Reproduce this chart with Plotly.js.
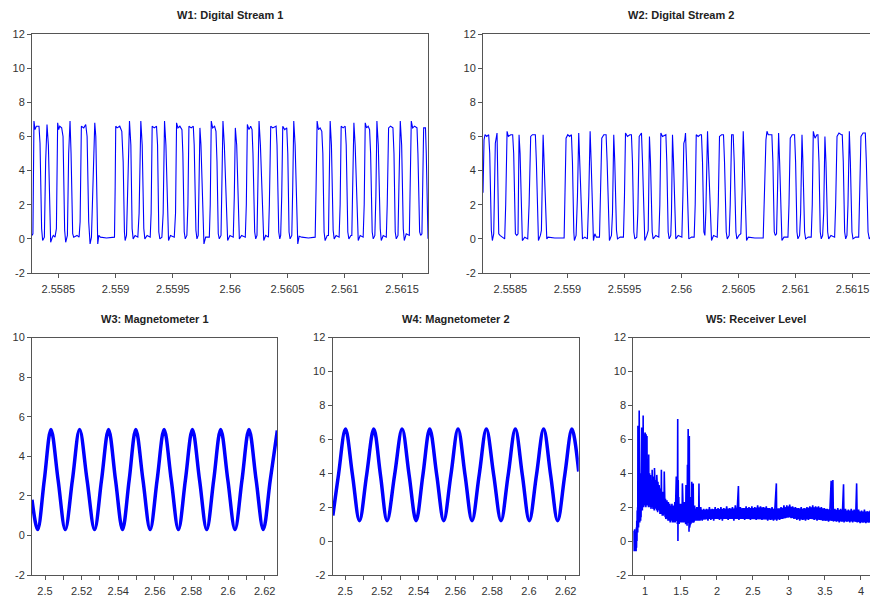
<!DOCTYPE html>
<html>
<head>
<meta charset="utf-8">
<script src="https://cdn.plot.ly/plotly-3.0.1.min.js"></script>
<style>
html, body { margin:0; padding:0; overflow:hidden; background:#fff; }
#chart { width:880px; height:599px; }
</style>
</head>
<body>
<div id="chart"></div>
<script>
// ---------------- DATA ----------------
// Digital streams: times are microseconds after 2.558 s
const STREAM_T0 = 2.558;
const w1TimeUs = [270,278,287,296,308,331,340,354,363,378,
389,401,413,427,433,448,456,471,483,494,
503,512,529,541,555,564,579,590,602,611,
625,634,663,681,690,701,722,739,751,765,
777,789,803,818,827,838,844,853,867,920,
990,996,1001,1013,1036,1054,1066,1077,1083,1095,
1106,1121,1133,1144,1153,1170,1194,1205,1220,1232,
1246,1255,1275,1302,1310,1319,1337,1357,1366,1377,
1386,1404,1415,1427,1439,1453,1462,1479,1512,1523,
1532,1544,1561,1579,1587,1599,1608,1622,1631,1640,
1660,1678,1686,1701,1710,1721,1727,1736,1745,1762,
1771,1786,1818,1826,1835,1847,1864,1876,1885,1896,
1905,1920,1925,1937,1949,1969,1978,1998,2027,2036,
2045,2057,2074,2080,2100,2132,2141,2150,2164,2179,
2191,2199,2214,2223,2234,2243,2252,2264,2284,2293,
2310,2334,2342,2354,2371,2401,2409,2424,2433,2441,
2450,2459,2476,2494,2503,2514,2523,2538,2546,2555,
2567,2581,2590,2602,2625,2683,2742,2750,2759,2771,
2785,2800,2809,2820,2829,2847,2858,2864,2873,2884,
2899,2908,2925,2951,2960,2969,2986,3004,3013,3027,
3036,3054,3062,3068,3080,3091,3109,3118,3135,3161,
3170,3179,3191,3205,3217,3226,3240,3249,3263,3272,
3281,3293,3310,3319,3336,3363,3371,3383,3400,3421,
3430,3441,3450,3465,3473,3485,3497,3511,3520,3537,
3564,3572,3581,3593,3610,3631,3639,3654,3663,3674,
3680,3689,3705,3712,3727];
const w1Volts = [0.2,0.3,6.9,6.4,6.6,6.6,5.6,0.6,-0.1,0.1,
4.5,6.7,5.5,0.4,-0.2,0.1,0.2,0.1,0.6,6.8,
6.4,6.6,6.5,6.0,0.5,-0.2,0.2,5.0,6.9,5.0,
0.3,0.1,0.2,0.1,1.0,6.6,6.5,6.7,6.0,1.0,
-0.3,0.1,3.5,6.8,6.0,0.4,-0.3,0.2,0.1,0.05,
0.1,3.0,6.6,6.5,6.6,6.3,4.5,0.4,-0.1,0.2,
2.5,6.9,5.5,0.6,0.0,0.2,0.1,1.5,6.9,5.5,
0.6,0.0,0.2,0.1,1.5,6.6,6.5,6.6,5.5,0.4,
0.0,0.1,1.5,6.9,5.5,0.8,-0.1,0.2,0.1,1.5,
6.8,6.5,6.6,6.4,5.0,0.4,0.0,0.2,2.0,6.6,
6.5,6.6,5.5,0.5,0.0,0.2,2.5,6.5,5.5,0.6,
-0.3,0.1,0.1,2.0,6.9,6.5,6.6,6.3,4.5,0.3,
0.0,0.2,2.0,6.9,5.5,0.6,-0.1,0.2,0.1,2.5,
6.5,5.5,0.5,0.0,0.2,0.1,2.0,6.7,6.4,6.6,
6.4,5.0,0.4,0.0,0.2,3.0,6.9,5.5,0.6,-0.1,
0.2,0.1,2.0,6.6,6.5,6.6,5.5,0.4,0.0,0.2,
2.5,6.6,6.4,6.5,5.0,0.4,0.0,0.2,3.0,6.9,
5.5,0.6,-0.3,0.15,0.1,0.05,0.1,3.0,6.9,6.4,
6.5,6.3,5.0,0.4,-0.1,0.2,0.2,3.0,6.9,5.5,
0.5,0.0,0.2,0.1,2.0,6.6,6.5,6.6,5.5,0.4,
0.0,0.2,0.2,2.5,6.8,5.5,0.6,-0.1,0.2,0.1,
2.0,6.8,6.5,6.6,6.4,5.0,0.4,0.0,0.2,2.5,
6.9,5.5,0.6,-0.1,0.2,0.1,2.0,6.5,6.6,6.5,
5.0,0.4,0.0,0.2,3.0,6.9,5.5,0.6,-0.1,0.3,
0.2,2.5,6.9,6.5,6.6,6.5,5.0,0.4,0.2,0.3,
3.0,6.5,6.5,5.0,0.0];

const w2TimeUs = [260,269,278,292,310,319,333,342,354,363,
368,383,389,398,409,436,450,459,471,482,
503,520,529,544,556,567,576,585,599,605,
626,652,664,678,693,719,728,740,746,763,
772,787,795,810,819,830,889,971,980,988,
1003,1020,1035,1044,1056,1061,1076,1088,1099,1108,
1123,1132,1152,1175,1187,1199,1208,1222,1228,1240,
1254,1281,1289,1301,1319,1339,1348,1360,1368,1386,
1395,1406,1415,1430,1439,1462,1491,1500,1509,1526,
1547,1561,1570,1582,1591,1608,1617,1629,1649,1658,
1673,1678,1696,1708,1719,1728,1743,1751,1775,1801,
1810,1819,1833,1854,1863,1871,1883,1892,1906,1912,
1921,1930,1944,1950,1971,2003,2012,2020,2029,2035,
2044,2056,2064,2088,2111,2120,2129,2146,2164,2175,
2184,2196,2205,2213,2228,2237,2254,2263,2281,2313,
2322,2333,2351,2368,2377,2392,2401,2418,2427,2439,
2453,2462,2477,2485,2503,2520,2532,2541,2550,2564,
2570,2585,2643,2716,2728,2740,2749,2760,2778,2792,
2801,2813,2822,2833,2842,2851,2860,2874,2880,2898,
2933,2942,2953,2971,2991,3000,3012,3020,3035,3044,
3056,3064,3079,3088,3111,3137,3146,3155,3170,3187,
3196,3205,3216,3225,3237,3246,3257,3266,3281,3290,
3310,3342,3351,3363,3380,3401,3409,3418,3430,3439,
3450,3459,3471,3480,3494,3503,3526,3553,3561,3573,
3591,3611,3620,3635,3646,3667,3711];
const w2Volts = [2.7,5.8,6.1,6.0,6.1,5.0,0.5,-0.1,0.3,4.5,
5.6,6.2,4.0,0.3,0.2,0.1,0.0,2.0,6.3,6.0,
6.1,6.1,5.0,0.3,0.2,0.3,6.1,5.0,0.5,-0.1,
0.1,0.0,2.0,6.0,6.1,6.1,4.5,0.4,-0.1,0.2,
0.5,6.1,4.5,0.5,0.0,0.1,0.05,0.05,2.5,5.9,
6.1,6.0,6.1,4.5,0.4,-0.1,0.2,2.5,6.2,4.5,
0.5,0.0,0.1,0.0,2.5,6.3,4.5,0.5,-0.1,0.3,
0.1,0.1,2.0,5.9,6.1,6.1,4.5,0.5,-0.1,0.2,
1.5,6.1,4.5,0.5,0.0,0.1,0.1,2.5,6.2,6.0,
6.1,6.1,4.5,0.4,0.0,0.1,1.5,6.0,6.2,4.5,
0.4,-0.1,0.2,0.5,6.0,4.5,0.4,0.0,0.2,0.1,
2.0,6.2,6.0,6.1,6.1,4.5,0.4,0.0,0.2,1.5,
6.1,4.5,0.4,0.0,0.2,0.1,2.5,5.6,5.8,6.2,
4.5,0.5,0.0,0.1,0.1,2.0,6.1,6.0,6.1,6.1,
4.5,0.4,0.2,1.5,6.3,4.5,0.5,-0.1,0.2,0.1,
2.0,6.0,6.1,6.1,4.5,0.4,0.0,0.2,2.0,6.1,
6.1,4.5,0.4,0.0,0.2,0.3,3.0,6.3,4.5,0.5,
-0.1,0.1,0.05,0.05,2.5,5.8,6.3,6.1,6.1,6.1,
4.5,0.4,0.2,0.3,3.0,6.2,4.5,0.4,-0.1,0.1,
0.1,2.0,5.9,6.1,6.1,4.5,0.4,0.0,0.2,1.5,
6.1,4.5,0.4,0.0,0.1,0.1,2.0,6.3,5.9,6.1,
6.1,4.5,0.4,0.0,0.2,1.5,6.0,4.5,0.4,0.0,
0.2,0.1,2.0,6.0,6.2,6.1,6.1,4.5,0.4,0.0,
0.2,2.0,6.3,4.5,0.4,0.0,0.1,0.1,2.0,6.0,
6.2,6.2,4.5,0.4,0.0,0.2,0.1];

const w3Time = [2.4929,2.49598,2.49962,2.50325,2.50716,2.51107,2.51498,2.51889,2.52298,2.52707,
2.53089,2.53471,2.53853,2.54234,2.54598,2.54961,2.55352,2.55743,2.56125,2.56507,
2.56898,2.57288,2.5767,2.58052,2.58443,2.58834,2.59216,2.59597,2.59988,2.60379,
2.60761,2.61143,2.61534,2.61924,2.62306,2.6269];
const w3Value = [1.8,0.3,2.8,5.35,2.8,0.3,2.8,5.35,2.8,0.3,
2.8,5.35,2.8,0.3,2.8,5.35,2.8,0.3,2.8,5.35,
2.8,0.3,2.8,5.35,2.8,0.3,2.8,5.35,2.8,0.3,
2.8,5.35,2.8,0.3,2.8,5.3];

const w4Time = [2.4933,2.49635,2.50016,2.50397,2.50778,2.51168,2.51557,2.5192,2.52282,2.5269,
2.53098,2.53479,2.53859,2.54231,2.54602,2.54983,2.55364,2.55754,2.56143,2.56524,
2.56904,2.57294,2.57684,2.58083,2.58481,2.58871,2.59261,2.59642,2.60022,2.60412,
2.60801,2.61182,2.61563,2.61953,2.62342,2.6271];
const w4Value = [1.5,3.9,6.6,3.9,1.2,3.9,6.6,3.9,1.2,3.9,
6.6,3.9,1.2,3.9,6.6,3.9,1.2,3.9,6.6,3.9,
1.2,3.9,6.6,3.9,1.2,3.9,6.6,3.9,1.2,3.9,
6.6,3.9,1.2,3.9,6.6,4.1];

// Receiver level (seconds, level)
const w5Time = [0.838,0.841,0.844,0.847,0.850,0.853,0.856,0.859,0.862,0.865,
0.868,0.871,0.874,0.877,0.880,0.883,0.886,0.889,0.892,0.895,
0.898,0.900,0.902,0.905,0.908,0.911,0.914,0.917,0.920,0.922,
0.925,0.928,0.931,0.934,0.937,0.940,0.943,0.946,0.949,0.952,
0.955,0.958,0.961,0.964,0.967,0.970,0.975,0.977,0.980,0.983,
0.986,0.989,0.992,0.995,0.998,1.001,1.004,1.007,1.010,1.013,
1.016,1.019,1.022,1.025,1.028,1.031,1.034,1.037,1.040,1.043,
1.046,1.049,1.052,1.055,1.058,1.061,1.064,1.067,1.070,1.073,
1.076,1.079,1.082,1.085,1.088,1.091,1.094,1.097,1.100,1.104,
1.108,1.112,1.116,1.120,1.124,1.128,1.132,1.136,1.140,1.144,
1.148,1.152,1.156,1.160,1.164,1.168,1.172,1.176,1.180,1.184,
1.188,1.192,1.196,1.200,1.204,1.208,1.212,1.216,1.220,1.224,
1.228,1.232,1.236,1.240,1.244,1.248,1.252,1.256,1.260,1.264,
1.268,1.272,1.276,1.280,1.285,1.290,1.295,1.300,1.305,1.310,
1.315,1.320,1.325,1.330,1.335,1.340,1.345,1.350,1.355,1.360,
1.365,1.370,1.375,1.380,1.385,1.390,1.395,1.400,1.405,1.410,
1.415,1.420,1.425,1.430,1.435,1.440,1.445,1.450,1.455,1.458,
1.462,1.466,1.470,1.475,1.480,1.485,1.490,1.495,1.500,1.505,
1.510,1.515,1.520,1.525,1.530,1.535,1.540,1.545,1.550,1.555,
1.560,1.565,1.570,1.575,1.580,1.585,1.590,1.595,1.600,1.604,
1.608,1.612,1.616,1.620,1.624,1.628,1.632,1.636,1.640,1.645,
1.650,1.655,1.660,1.665,1.670,1.675,1.680,1.685,1.690,1.695,
1.700,1.705,1.710,1.715,1.720,1.725,1.730,1.735,1.740,1.745,
1.750,1.755,1.760,1.765,1.775,1.795,1.815,1.835,1.855,1.875,
1.895,1.915,1.935,1.955,1.975,1.995,2.015,2.035,2.055,2.075,
2.095,2.115,2.135,2.155,2.175,2.195,2.215,2.235,2.255,2.275,
2.298,2.305,2.325,2.345,2.365,2.385,2.405,2.425,2.445,2.465,
2.485,2.505,2.525,2.545,2.565,2.585,2.605,2.625,2.645,2.665,
2.685,2.705,2.725,2.745,2.765,2.785,2.805,2.825,2.830,2.850,
2.870,2.890,2.910,2.930,2.950,2.970,2.990,3.010,3.030,3.050,
3.070,3.090,3.110,3.130,3.150,3.170,3.190,3.210,3.230,3.250,
3.270,3.290,3.310,3.330,3.350,3.370,3.390,3.410,3.430,3.450,
3.470,3.490,3.510,3.530,3.550,3.570,3.586,3.595,3.610,3.618,
3.638,3.658,3.678,3.698,3.718,3.738,3.758,3.765,3.785,3.805,
3.825,3.845,3.865,3.885,3.905,3.925,3.940,3.948,3.968,3.988,
4.008,4.028,4.048,4.068,4.088,4.108,4.128,4.148,4.168,4.188,
4.208,4.228,4.248];
const w5Level = [0.3,-0.5,0.6,-0.6,0.2,-0.5,0.7,-0.6,0.3,-0.6,
0.5,-0.5,0.4,-0.6,0.8,-0.4,1.2,0.0,1.8,0.6,
2.0,0.5,6.8,1.0,2.2,0.8,2.0,1.2,7.7,1.5,
5.5,1.1,3.5,1.6,3.0,1.2,4.0,1.4,3.2,1.8,
6.7,2.0,4.5,1.8,3.8,2.4,7.4,2.2,6.4,2.0,
5.5,2.6,6.3,2.4,4.0,2.1,6.4,2.5,5.0,2.0,
6.3,2.6,4.4,2.1,6.2,2.7,4.0,2.2,4.6,2.5,
3.5,2.0,5.1,2.4,3.8,2.2,4.0,2.6,3.4,2.0,
3.9,2.3,3.2,1.9,3.6,2.2,3.0,2.0,4.2,2.4,
3.4,1.9,3.8,2.3,3.0,1.8,4.3,2.1,3.3,1.9,
3.6,2.2,3.0,1.8,3.9,2.0,3.2,1.7,3.5,2.1,
2.8,1.8,3.3,1.9,2.9,1.6,3.1,1.9,2.7,1.6,
4.2,1.9,2.6,1.5,2.9,1.7,2.5,1.5,2.8,1.6,
4.1,1.5,2.4,1.4,2.5,1.3,2.3,1.4,2.4,1.3,
2.2,1.2,2.3,1.3,2.1,1.2,2.2,1.1,2.1,1.2,
2.0,1.2,2.2,1.1,2.0,1.2,2.1,1.1,2.0,1.2,
2.3,1.1,3.0,1.3,3.8,1.2,2.8,1.0,7.2,0.0,
3.6,1.1,2.6,1.0,2.2,1.2,2.1,1.1,2.2,1.2,
2.0,1.1,3.4,1.2,2.1,1.1,2.0,1.2,2.3,1.1,
2.2,1.0,3.3,1.0,3.0,0.9,4.5,1.2,6.6,0.8,
6.5,0.55,6.2,0.8,3.6,1.0,2.6,1.0,2.4,1.2,
3.5,1.1,2.1,1.2,3.4,1.1,2.0,1.2,2.1,1.3,
2.0,1.2,1.9,1.3,2.0,1.2,1.9,1.3,2.0,1.2,
3.4,1.3,1.9,1.2,2.0,1.2,1.9,1.3,1.9,1.2,
2.0,1.25,1.9,1.2,2.0,1.3,1.95,1.25,2.0,1.2,
1.95,1.3,2.05,1.25,1.95,1.3,2.0,1.2,2.1,1.3,
3.25,1.25,2.0,1.3,1.95,1.25,2.05,1.3,2.0,1.25,
2.05,1.3,2.0,1.25,2.1,1.3,2.05,1.25,2.0,1.3,
2.05,1.2,1.95,1.25,2.0,1.2,1.95,3.4,1.2,1.9,
1.25,2.0,1.3,2.1,1.35,2.1,1.4,2.15,1.35,2.05,
1.3,2.0,1.25,1.95,1.2,2.0,1.25,1.95,1.2,2.0,
1.25,2.05,1.3,2.1,1.25,2.05,1.2,2.05,1.25,2.0,
1.2,1.95,1.2,1.9,1.15,1.95,3.55,1.2,3.6,1.15,
1.9,1.15,1.95,1.1,1.9,1.15,3.35,1.1,1.9,1.15,
1.85,1.1,1.9,1.1,1.85,1.15,3.4,1.1,1.85,1.05,
1.8,1.1,1.85,1.05,1.75,1.1,1.8,1.05,1.7,1.1,
1.75,1.05,1.7];

// Receiver level: solid core of the noise band (upper / lower edge)
const rxBandTime  = [1.30,1.40,1.50,1.60,1.70,1.80,1.90,2.00,2.10,2.20,2.30,2.40,2.50,2.60,2.70,2.80,2.90,3.00,3.10,3.20,3.30,3.40,3.50,3.60,3.70,3.80,3.90,4.00,4.10,4.25];
const rxBandUpper = [2.15,2.0,2.0,2.0,1.9,1.85,1.88,1.9,1.9,1.92,1.95,1.95,1.95,2.0,1.95,1.9,1.95,2.05,1.95,1.9,2.0,2.0,1.9,1.85,1.85,1.8,1.8,1.75,1.75,1.7];
const rxBandLower = [1.35,1.2,1.15,1.05,1.25,1.25,1.3,1.3,1.3,1.3,1.3,1.3,1.3,1.3,1.27,1.25,1.3,1.4,1.3,1.25,1.3,1.25,1.2,1.2,1.15,1.15,1.15,1.1,1.1,1.1];

// Tick labels
const streamTicks = [2.5585, 2.559, 2.5595, 2.56, 2.5605, 2.561, 2.5615];
const streamTickText = ["2.5585","2.559","2.5595","2.56","2.5605","2.561","2.5615"];
const magTicks = [2.5, 2.52, 2.54, 2.56, 2.58, 2.6, 2.62];
const magTickText = ["2.5","2.52","2.54","2.56","2.58","2.6","2.62"];
const magMinorTicks = [2.51, 2.53, 2.55, 2.57, 2.59, 2.61];
const rxTicks = [1, 1.5, 2, 2.5, 3, 3.5, 4];
const rxTickText = ["1","1.5","2","2.5","3","3.5","4"];
const yTicks12 = [-2, 0, 2, 4, 6, 8, 10, 12];
const yTicks10 = [-2, 0, 2, 4, 6, 8, 10];
const panelTitles = ["W1: Digital Stream 1", "W2: Digital Stream 2", "W3: Magnetometer 1", "W4: Magnetometer 2", "W5: Receiver Level"];

// ---------------- PLOT ----------------
const FONT = "Liberation Sans, Arial, sans-serif";
const W = 880, H = 599;
const BLUE = "#0000ff";
const px = (a, b) => [a / W, b / W];
const py = (top, bottom) => [1 - bottom / H, 1 - top / H];

const x1 = w1TimeUs.map(u => STREAM_T0 + u / 1e6);
const x2 = w2TimeUs.map(u => STREAM_T0 + u / 1e6);
const bandX = rxBandTime.concat(rxBandTime.slice().reverse());
const bandY = rxBandUpper.concat(rxBandLower.slice().reverse());

const traces = [
  {x: x1, y: w1Volts, xaxis: "x", yaxis: "y", type: "scatter", mode: "lines", line: {color: BLUE, width: 1.1}},
  {x: x2, y: w2Volts, xaxis: "x2", yaxis: "y2", type: "scatter", mode: "lines", line: {color: BLUE, width: 1.1}},
  {x: w3Time, y: w3Value, xaxis: "x3", yaxis: "y3", type: "scatter", mode: "lines", line: {color: BLUE, width: 3.5, shape: "spline", smoothing: 1}},
  {x: w4Time, y: w4Value, xaxis: "x4", yaxis: "y4", type: "scatter", mode: "lines", line: {color: BLUE, width: 3.5, shape: "spline", smoothing: 1}},
  {x: bandX, y: bandY, xaxis: "x5", yaxis: "y5", type: "scatter", mode: "lines", fill: "toself", fillcolor: BLUE, line: {color: BLUE, width: 0}},
  {x: w5Time, y: w5Level, xaxis: "x5", yaxis: "y5", type: "scatter", mode: "lines", line: {color: BLUE, width: 1.6}}
];

const base = {
  showline: true, mirror: true, linecolor: "#555", linewidth: 1,
  ticks: "outside", ticklen: 4, tickwidth: 1, tickcolor: "#555",
  showgrid: false, zeroline: false, fixedrange: true,
  tickfont: {family: FONT, size: 11, color: "#333"}
};
function xa(domain, range, vals, text, anchor, minor) {
  const o = Object.assign({}, base, {domain, range, anchor, tickmode: "array", tickvals: vals, ticktext: text, ticklabelstandoff: 2});
  if (minor) o.minor = {tickmode: "array", tickvals: minor, ticks: "outside", ticklen: 4, tickcolor: "#555", showgrid: false};
  return o;
}
function ya(domain, range, vals, anchor) {
  return Object.assign({}, base, {domain, range, anchor, tickmode: "array", tickvals: vals, ticktext: vals.map(String)});
}

const topY = py(34, 273), botY = py(337.5, 575);
const layout = {
  width: W, height: H,
  margin: {l: 0, r: 0, t: 0, b: 0},
  paper_bgcolor: "#fff", plot_bgcolor: "#fff",
  showlegend: false,
  font: {family: FONT, size: 11, color: "#333"},
  xaxis:  xa(px(32, 428), [2.55827, 2.561727], streamTicks, streamTickText, "y"),
  yaxis:  ya(topY, [-2, 12], yTicks12, "x"),
  xaxis2: xa(px(483, 879), [2.55826, 2.561731], streamTicks, streamTickText, "y2"),
  yaxis2: ya(topY, [-2, 12], yTicks12, "x2"),
  xaxis3: xa(px(32, 277.3), [2.4929, 2.6269], magTicks, magTickText, "y3", magMinorTicks),
  yaxis3: ya(botY, [-2, 10], yTicks10, "x3"),
  xaxis4: xa(px(332.5, 578.7), [2.4931, 2.6271], magTicks, magTickText, "y4", magMinorTicks),
  yaxis4: ya(botY, [-2, 12], yTicks12, "x4"),
  xaxis5: xa(px(633.3, 878.6), [0.838, 4.245], rxTicks, rxTickText, "y5"),
  yaxis5: ya(botY, [-2, 12], yTicks12, "x5"),
  annotations: [
    [230, 15], [681, 15], [154.6, 319], [455.6, 319], [756, 319]
  ].map((p, i) => ({
    xref: "paper", yref: "paper", x: p[0] / W, y: 1 - p[1] / H,
    xanchor: "center", yanchor: "middle", showarrow: false,
    text: "<b>" + panelTitles[i] + "</b>",
    font: {family: FONT, size: 11, color: "#222"}
  }))
};

Plotly.newPlot("chart", traces, layout, {staticPlot: true, displayModeBar: false});
</script>
</body>
</html>
